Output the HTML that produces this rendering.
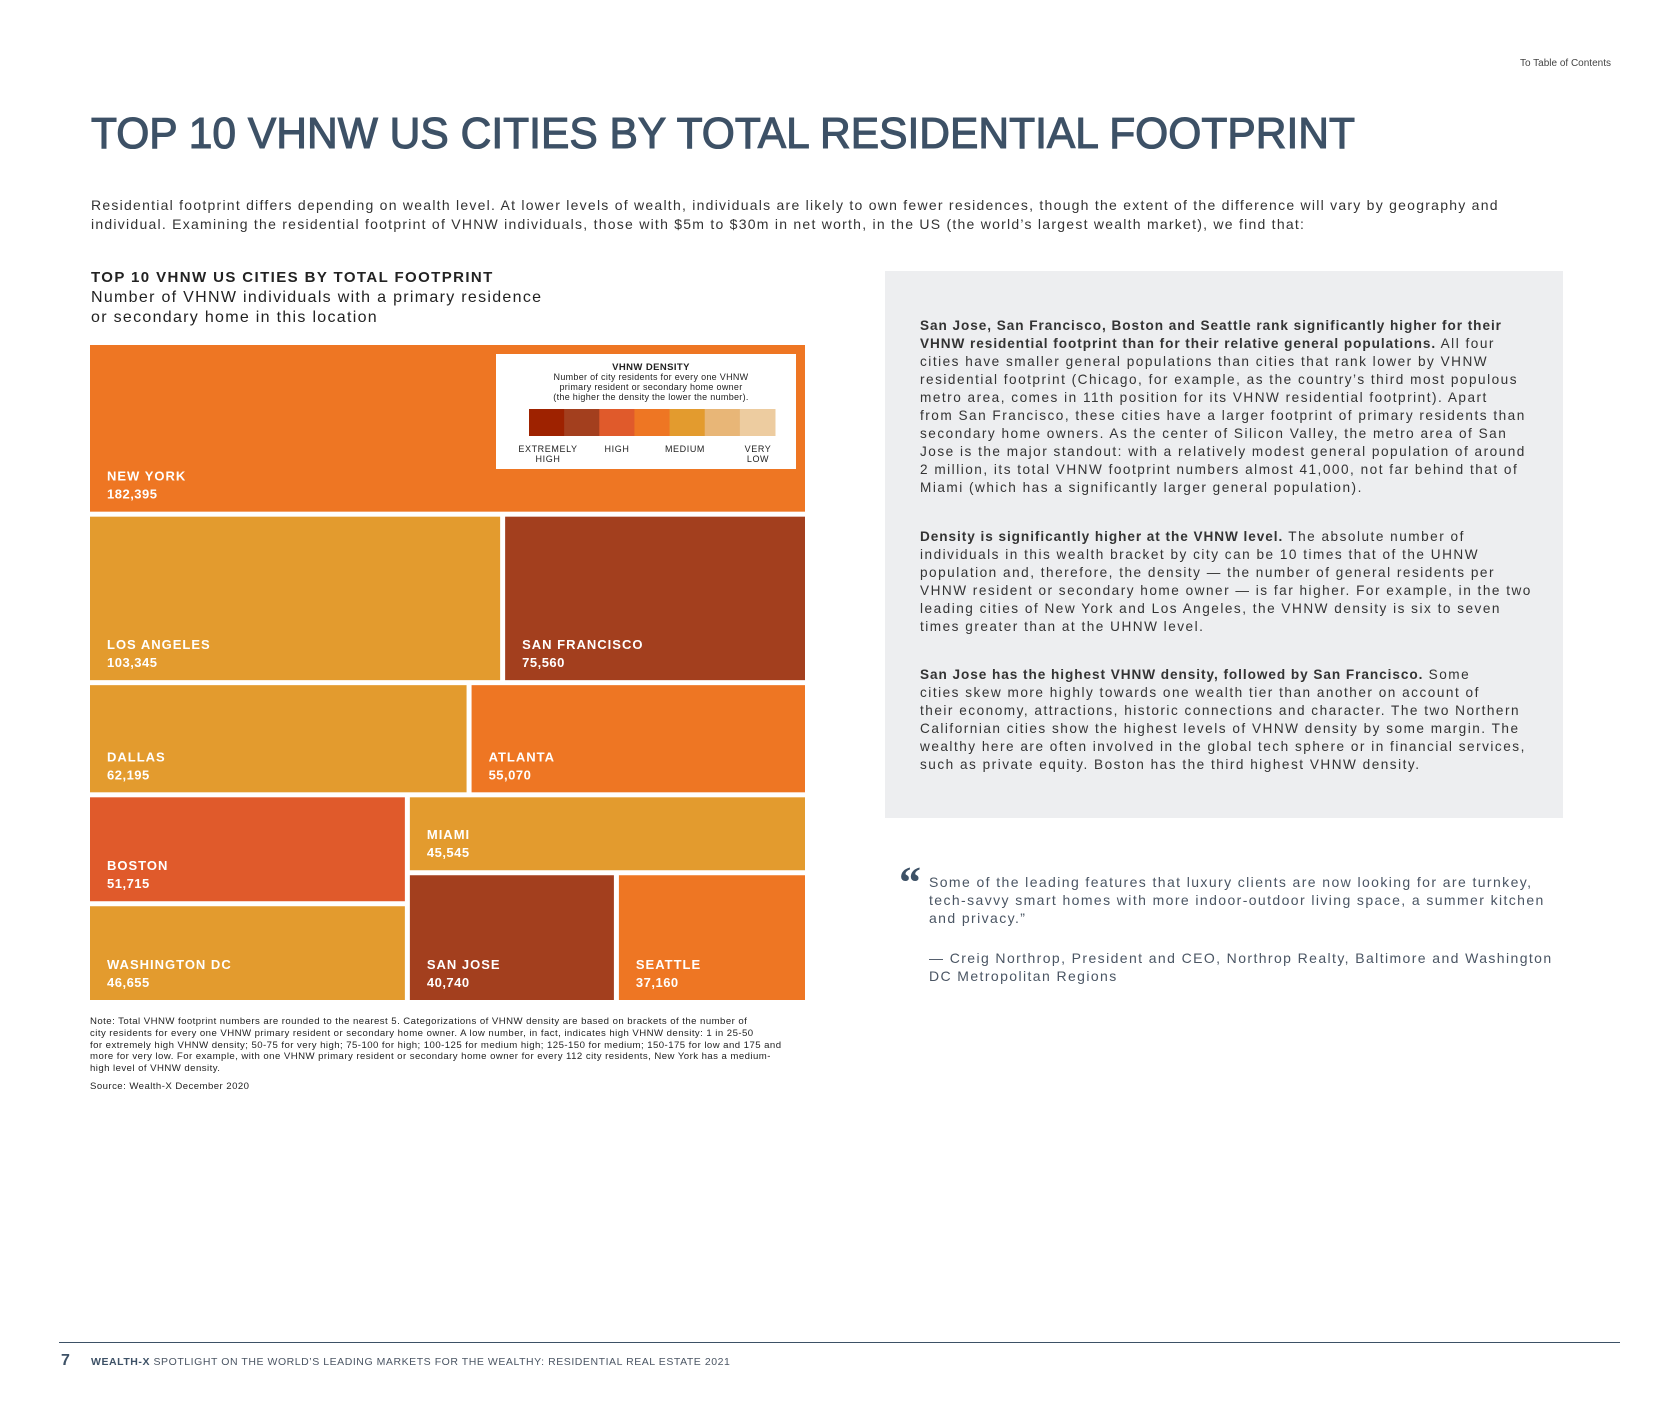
<!DOCTYPE html>
<html><head><meta charset="utf-8">
<style>
*{margin:0;padding:0;box-sizing:border-box}
body{width:1680px;height:1403px;background:#fff;position:relative;overflow:hidden;font-family:"Liberation Sans",sans-serif;color:#333}
.abs{position:absolute;white-space:nowrap}
.intro div,.box div,.quote div{white-space:nowrap}
.intro{left:91px;top:196px;font-size:14px;letter-spacing:1.25px;line-height:18.5px;color:#333}
.box{position:absolute;left:885px;top:271px;width:678px;height:547px;background:#edeef0}
.box .p{position:absolute;left:35px;font-size:13.6px;letter-spacing:1.5px;line-height:18px;color:#333}
.box .p b{letter-spacing:0.95px}
.quote{left:929px;top:873px;font-size:14px;letter-spacing:1.4px;line-height:18.2px;color:#4a5563}
.note{left:90px;top:1016px;font-size:9.6px;letter-spacing:0.45px;line-height:11.8px;color:#222}
</style></head><body>
<div class="abs" style="left:1520px;top:58px;font-size:10px;color:#444">To Table of Contents</div>
<svg class="abs" style="left:0;top:98px" width="1680" height="70"><text x="91" y="50" font-family="Liberation Sans" font-size="44" fill="#3d5166" stroke="#3d5166" stroke-width="1.1" textLength="1264" lengthAdjust="spacingAndGlyphs">TOP 10 VHNW US CITIES BY TOTAL RESIDENTIAL FOOTPRINT</text></svg>
<div class="abs intro">
<div>Residential footprint differs depending on wealth level. At lower levels of wealth, individuals are likely to own fewer residences, though the extent of the difference will vary by geography and</div>
<div>individual. Examining the residential footprint of VHNW individuals, those with $5m to $30m in net worth, in the US (the world’s largest wealth market), we find that:</div>
</div>
<div class="abs" style="left:91px;top:269px;font-size:15px;font-weight:bold;letter-spacing:1.4px;color:#222">TOP 10 VHNW US CITIES BY TOTAL FOOTPRINT</div>
<div class="abs" style="left:91px;top:288px;font-size:16px;letter-spacing:1.3px;line-height:20px;color:#222">Number of VHNW individuals with a primary residence<br>or secondary home in this location</div>

<svg class="abs" id="tm" style="left:0;top:0" width="900" height="1060"></svg>

<div class="abs note">
<div>Note: Total VHNW footprint numbers are rounded to the nearest 5. Categorizations of VHNW density are based on brackets of the number of</div>
<div>city residents for every one VHNW primary resident or secondary home owner. A low number, in fact, indicates high VHNW density: 1 in 25-50</div>
<div>for extremely high VHNW density; 50-75 for very high; 75-100 for high; 100-125 for medium high; 125-150 for medium; 150-175 for low and 175 and</div>
<div>more for very low. For example, with one VHNW primary resident or secondary home owner for every 112 city residents, New York has a medium-</div>
<div>high level of VHNW density.</div>
<div style="margin-top:6px">Source: Wealth-X December 2020</div>
</div>

<div class="box">
<div class="p" style="top:46px">
<div><b>San Jose, San Francisco, Boston and Seattle rank significantly higher for their</b></div>
<div><b>VHNW residential footprint than for their relative general populations.</b> All four</div>
<div>cities have smaller general populations than cities that rank lower by VHNW</div>
<div>residential footprint (Chicago, for example, as the country’s third most populous</div>
<div>metro area, comes in 11th position for its VHNW residential footprint). Apart</div>
<div>from San Francisco, these cities have a larger footprint of primary residents than</div>
<div>secondary home owners. As the center of Silicon Valley, the metro area of San</div>
<div>Jose is the major standout: with a relatively modest general population of around</div>
<div>2 million, its total VHNW footprint numbers almost 41,000, not far behind that of</div>
<div>Miami (which has a significantly larger general population).</div>
</div>
<div class="p" style="top:257px">
<div><b>Density is significantly higher at the VHNW level.</b> The absolute number of</div>
<div>individuals in this wealth bracket by city can be 10 times that of the UHNW</div>
<div>population and, therefore, the density — the number of general residents per</div>
<div>VHNW resident or secondary home owner — is far higher. For example, in the two</div>
<div>leading cities of New York and Los Angeles, the VHNW density is six to seven</div>
<div>times greater than at the UHNW level.</div>
</div>
<div class="p" style="top:395px">
<div><b>San Jose has the highest VHNW density, followed by San Francisco.</b> Some</div>
<div>cities skew more highly towards one wealth tier than another on account of</div>
<div>their economy, attractions, historic connections and character. The two Northern</div>
<div>Californian cities show the highest levels of VHNW density by some margin. The</div>
<div>wealthy here are often involved in the global tech sphere or in financial services,</div>
<div>such as private equity. Boston has the third highest VHNW density.</div>
</div>
</div>

<div class="abs" style="left:899px;top:861px;font-size:44px;font-weight:bold;color:#3d5166;font-family:'Liberation Serif',serif;line-height:44px">“</div>
<div class="abs quote">
<div>Some of the leading features that luxury clients are now looking for are turnkey,</div>
<div>tech-savvy smart homes with more indoor-outdoor living space, a summer kitchen</div>
<div>and privacy.”</div>
<div style="margin-top:21px">— Creig Northrop, President and CEO, Northrop Realty, Baltimore and Washington</div>
<div>DC Metropolitan Regions</div>
</div>

<div class="abs" style="left:59px;top:1342px;width:1561px;height:1px;background:#3d5166"></div>
<div class="abs" style="left:61px;top:1352px;font-size:16px;font-weight:bold;color:#3d5166">7</div>
<div class="abs" style="left:91px;top:1356px;font-size:10.5px;letter-spacing:0.55px;color:#4a5563"><b style="color:#3d5166">WEALTH-X</b> SPOTLIGHT ON THE WORLD’S LEADING MARKETS FOR THE WEALTHY: RESIDENTIAL REAL ESTATE 2021</div>

<script>
const cities = ["NEW YORK","LOS ANGELES","SAN FRANCISCO","DALLAS","ATLANTA","BOSTON","WASHINGTON DC","MIAMI","SAN JOSE","SEATTLE"];
const footprint = [182395,103345,75560,62195,55070,51715,46655,45545,40740,37160];
const densityLevel = ["medium","medium-low","very-high","medium-low","medium","high","medium-low","medium-low","very-high","medium"];
const legendLevels = ["extremely-high","very-high","high","medium","medium-low","low","very-low"];
const legendColors = ["#9e2200","#a33f1e","#e05a2b","#ee7623","#e39b2e","#e8b677","#edcca0"];

const NS="http://www.w3.org/2000/svg";
const svg=document.getElementById('tm');
const X0=90,Y0=345,W=715,H=655,G=5;
function colorOf(i){return legendColors[legendLevels.indexOf(densityLevel[i])];}
function fmt(v){return v.toLocaleString('en-US');}
function tile(i,x,y,w,h){
  const r=document.createElementNS(NS,'rect');
  r.setAttribute('x',x);r.setAttribute('y',y);r.setAttribute('width',w);r.setAttribute('height',h);
  r.setAttribute('fill',colorOf(i));
  
  
  svg.appendChild(r);
  const t=document.createElementNS(NS,'text');
  t.setAttribute('x',x+17);t.setAttribute('y',y+h-31);
  t.setAttribute('fill','#fff');t.setAttribute('font-family','Liberation Sans');
  t.setAttribute('font-size','13');t.setAttribute('font-weight','bold');t.setAttribute('letter-spacing','1');
  t.textContent=cities[i];
  
  
  svg.appendChild(t);
  const v=document.createElementNS(NS,'text');
  v.setAttribute('x',x+17);v.setAttribute('y',y+h-13);
  v.setAttribute('fill','#fff');v.setAttribute('font-family','Liberation Sans');
  v.setAttribute('font-size','13');v.setAttribute('font-weight','bold');v.setAttribute('letter-spacing','0.5');
  v.textContent=fmt(footprint[i]);
  
  
  svg.appendChild(v);
}
const sum=a=>a.reduce((s,i)=>s+footprint[i],0);
const total=sum([0,1,2,3,4,5,6,7,8,9]);
const rows=[[0],[1,2],[3,4],[5,6,7,8,9]];
const netH=H-G*(rows.length-1);
let y=Y0;
rows.forEach((row,ri)=>{
  const rh=netH*sum(row)/total;
  if(ri<3){
    const netW=W-G*(row.length-1);let x=X0;
    row.forEach(i=>{const w=netW*footprint[i]/sum(row);tile(i,x,y,w,rh);x+=w+G;});
  } else {
    const netW=W-G;
    const lw=netW*sum([5,6])/sum(row);
    const nh=rh-G;
    const bh=nh*footprint[5]/sum([5,6]);
    tile(5,X0,y,lw,bh);
    tile(6,X0,y+bh+G,lw,nh-bh);
    const rx=X0+lw+G, rw=netW-lw;
    const mh=nh*footprint[7]/sum([7,8,9]);
    tile(7,rx,y,rw,mh);
    const sw=(rw-G)*footprint[8]/sum([8,9]);
    tile(8,rx,y+mh+G,sw,nh-mh);
    tile(9,rx+sw+G,y+mh+G,rw-G-sw,nh-mh);
  }
  y+=rh+G;
});
// legend
const lg=document.createElementNS(NS,'g');


svg.appendChild(lg);
const bg=document.createElementNS(NS,'rect');
bg.setAttribute('x',496);bg.setAttribute('y',354);bg.setAttribute('width',300);bg.setAttribute('height',115);bg.setAttribute('fill','#fff');
lg.appendChild(bg);
function ltext(s,x,yy,bold,size,ls){const t=document.createElementNS(NS,'text');t.setAttribute('x',x);t.setAttribute('y',yy);t.setAttribute('text-anchor','middle');t.setAttribute('font-family','Liberation Sans');t.setAttribute('font-size',size);t.setAttribute('fill','#222');if(ls)t.setAttribute('letter-spacing',ls);if(bold)t.setAttribute('font-weight','bold');t.textContent=s;lg.appendChild(t);}
ltext('VHNW DENSITY',651,370,true,9.5,0.4);
ltext('Number of city residents for every one VHNW',651,380,false,9,0.3);
ltext('primary resident or secondary home owner',651,390,false,9,0.3);
ltext('(the higher the density the lower the number).',651,400,false,9,0.3);
const sw=246/legendColors.length;
legendColors.forEach((c,k)=>{const r=document.createElementNS(NS,'rect');r.setAttribute('x',529+k*sw);r.setAttribute('y',409);r.setAttribute('width',sw+0.5);r.setAttribute('height',27);r.setAttribute('fill',c);


lg.appendChild(r);});
ltext('EXTREMELY',548,452,false,9,0.6);ltext('HIGH',548,462,false,9,0.6);
ltext('HIGH',617,452,false,9,0.6);
ltext('MEDIUM',685,452,false,9,0.6);
ltext('VERY',758,452,false,9,0.6);ltext('LOW',758,462,false,9,0.6);
</script>
</body></html>
